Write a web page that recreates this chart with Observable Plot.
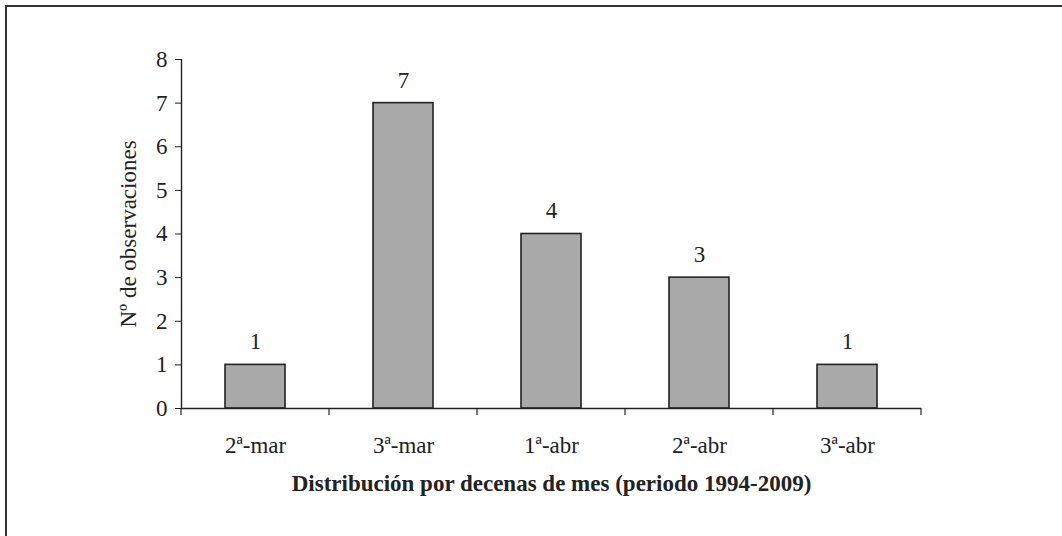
<!DOCTYPE html>
<html>
<head>
<meta charset="utf-8">
<script src="https://cdn.jsdelivr.net/npm/d3@7"></script>
<script src="https://cdn.jsdelivr.net/npm/@observablehq/plot@0.6"></script>
<style>
  html, body { margin: 0; padding: 0; background: #fff; }
  #wrap { position: relative; width: 1062px; height: 536px; overflow: hidden; }
  #border { position: absolute; left: 5px; top: 5px; width: 1200px; height: 700px;
            border-left: 2px solid #333; border-top: 2px solid #333; pointer-events: none; }
  #chart { position: absolute; left: 0; top: 0; }
  svg { font-family: "Liberation Serif", "Times New Roman", serif; }
</style>
</head>
<body>
<div id="wrap"><div id="chart"></div><div id="border"></div></div>
<script>
const categories = ["2ª-mar", "3ª-mar", "1ª-abr", "2ª-abr", "3ª-abr"];
const values = [1, 7, 4, 3, 1];
const yTicks = [0, 1, 2, 3, 4, 5, 6, 7, 8];
const xTitle = "Distribución por decenas de mes (periodo 1994-2009)";
const yTitle = "Nº de observaciones";

const data = categories.map((c, i) => ({cat: c, v: values[i]}));

const W = 1062, H = 536, mL = 181, mR = 141, mT = 59, mB = 128;
const step = (W - mL - mR) / categories.length;
const pIn = 0.595;
const FS = 23;

const chart = Plot.plot({
  width: W, height: H,
  marginLeft: mL, marginRight: mR, marginTop: mT, marginBottom: mB,
  style: {fontFamily: '"Liberation Serif", "Times New Roman", serif', fontSize: FS + "px", color: "#222", background: "transparent"},
  x: {type: "band", domain: categories, paddingInner: pIn, paddingOuter: pIn / 2, axis: null},
  y: {type: "linear", domain: [0, 8], axis: null},
  marks: [
    Plot.barY(data, {x: "cat", y: "v", fill: "#a8a9a8", stroke: "#222", strokeWidth: 1.6}),
    Plot.text(data, {x: "cat", y: "v", text: d => String(d.v), dy: -23, fontSize: FS, fill: "#222"}),
    Plot.ruleY([0], {stroke: "#222", strokeWidth: 1.4}),
    Plot.ruleX([categories[0]], {x: d => d, dx: -step / 2, y1: 0, y2: 8, stroke: "#222", strokeWidth: 1.4}),
    Plot.axisX({anchor: "bottom", tickSize: 0, tickPadding: 28, fontSize: FS, label: null, fill: "#222"}),
    Plot.axisY({anchor: "left", ticks: yTicks, tickSize: 6, tickPadding: 8, fontSize: FS, label: null, stroke: "#222", fill: "#222"}),
    Plot.text([xTitle], {text: d => d, frameAnchor: "bottom", dy: 82, fontWeight: "bold", fontSize: FS, fill: "#222"}),
    Plot.text([yTitle], {text: d => d, frameAnchor: "left", textAnchor: "middle", dx: -53, rotate: -90, fontSize: FS, fill: "#222"})
  ]
});

// Boundary ticks on the x axis (below the axis line), via the band scale
const xs = chart.scale("x");
const ys = chart.scale("y");
const svg = d3.select(chart);
const bounds = categories.map(c => xs.apply(c) - (step - xs.bandwidth) / 2);
bounds.push(bounds[bounds.length - 1] + step);
const y0 = ys.apply(0);
svg.append("g").attr("stroke", "#222").attr("stroke-width", 1.2)
  .selectAll("line").data(bounds).join("line")
  .attr("x1", d => d).attr("x2", d => d).attr("y1", y0).attr("y2", y0 + 7);

document.getElementById("chart").appendChild(chart);
</script>
</body>
</html>
